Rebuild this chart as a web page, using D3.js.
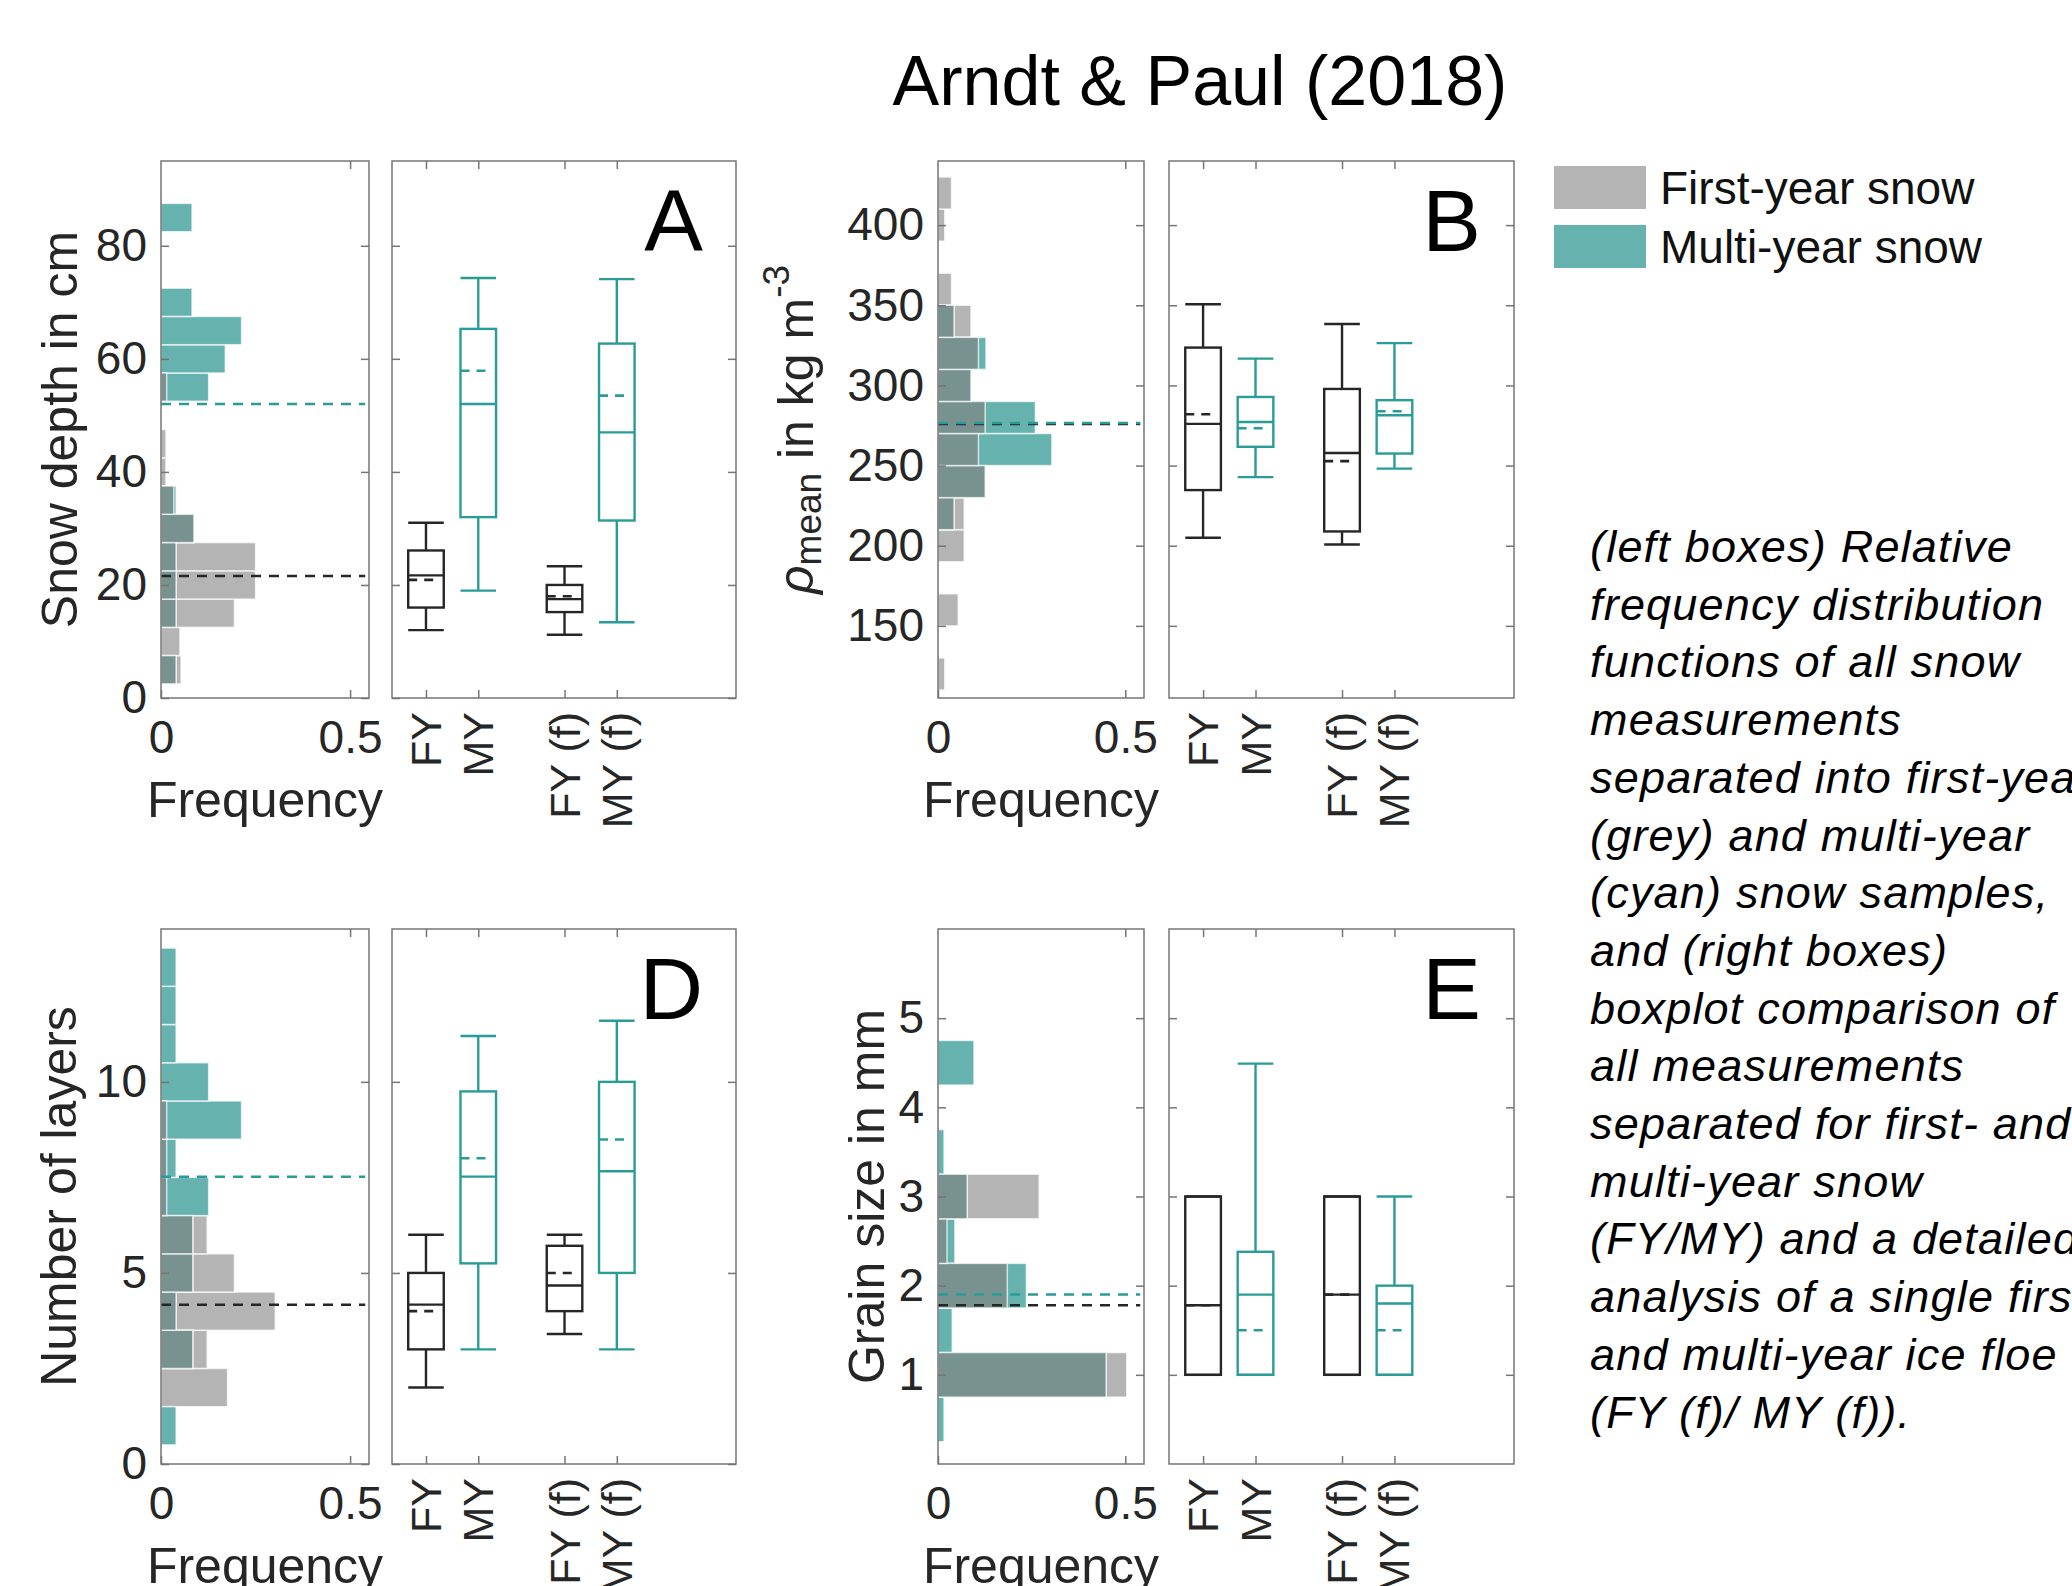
<!DOCTYPE html>
<html>
<head>
<meta charset="utf-8">
<script src="https://cdn.jsdelivr.net/npm/d3@7"></script>
<style>
  body { margin: 0; background: #fff; }
  svg { display: block; }
</style>
</head>
<body>
<div id="screen"></div>
<script>
// values

var boxCategories = ["FY", "MY", "FY (f)", "MY (f)"];
var boxPositions = [1, 2, 3.65, 4.65];
var boxSeries = ["fy", "my", "fy", "my"];
var legendLabels = ["First-year snow", "Multi-year snow"];

// A - snow depth
var binsA = [5, 10, 15, 20, 25, 30, 35, 40, 45, 50, 55, 60, 65, 70, 75, 80, 85];
var fyFreqA = [0.053, 0.05, 0.194, 0.25, 0.25, 0.087, 0.034, 0.013, 0.013, 0, 0.015, 0, 0, 0, 0, 0, 0];
var myFreqA = [0.04, 0, 0.04, 0.04, 0.04, 0.087, 0.04, 0, 0, 0, 0.126, 0.17, 0.213, 0.082, 0, 0, 0.082];
// [low whisker, q1, median, q3, high whisker, mean]
var boxesA = [[12.0, 16.0, 21.7, 26.1, 31.0, 20.9],
              [19.0, 32.0, 52.0, 65.3, 74.3, 57.9],
              [11.2, 15.2, 17.5, 20.0, 23.3, 18.0],
              [13.4, 31.4, 47.0, 62.7, 74.1, 53.5]];
var medianA = [21.6, 52.0];
var yTicksA = [0, 20, 40, 60, 80];

// B - density
var binsB = [120, 140, 160, 180, 200, 220, 240, 260, 280, 300, 320, 340, 360, 380, 400, 420];
var fyFreqB = [0.018, 0, 0.054, 0, 0.07, 0.07, 0.126, 0.108, 0.126, 0.088, 0.108, 0.088, 0.036, 0, 0.018, 0.036];
var myFreqB = [0, 0, 0, 0, 0, 0.043, 0.126, 0.304, 0.26, 0.088, 0.128, 0.043, 0, 0, 0, 0];
var boxesB = [[205, 234.7, 276, 323.6, 350.6, 282],
              [242.8, 261.7, 277.2, 292.8, 316.7, 273.3],
              [200.8, 208.9, 257.8, 297.8, 338.3, 252.8],
              [248.1, 257.5, 281.4, 290.8, 326.4, 283.9]];
var medianB = [276, 276.5];
var yTicksB = [150, 200, 250, 300, 350, 400];

// D - number of layers
var binsD = [1, 2, 3, 4, 5, 6, 7, 8, 9, 10, 11, 12, 13];
var fyFreqD = [0, 0.176, 0.122, 0.302, 0.194, 0.122, 0.015, 0.015, 0.015, 0, 0, 0, 0];
var myFreqD = [0.04, 0, 0.084, 0.04, 0.084, 0.084, 0.126, 0.04, 0.213, 0.126, 0.04, 0.04, 0.04];
var boxesD = [[2, 3, 4.17, 5, 6, 4.0],
              [3, 5.25, 7.52, 9.75, 11.2, 8.0],
              [3.4, 4.0, 4.67, 5.71, 6.0, 5.0],
              [3, 5, 7.66, 10, 11.6, 8.49]];
var medianD = [4.17, 7.52];
var yTicksD = [0, 5, 10];

// E - grain size
var binsE = [0.5, 1, 1.5, 2, 2.5, 3, 3.5, 4, 4.5];
var fyFreqE = [0, 0.504, 0, 0.185, 0.024, 0.27, 0, 0, 0];
var myFreqE = [0.016, 0.449, 0.038, 0.236, 0.045, 0.078, 0.016, 0, 0.096];
var boxesE = [[1, 1, 1.78, 3, 3, 1.78],
              [1, 1, 1.9, 2.38, 4.49, 1.5],
              [1, 1, 1.9, 3, 3, 1.9],
              [1, 1, 1.8, 2, 3, 1.5]];
var medianE = [1.78, 1.9];
var yTicksE = [1, 2, 3, 4, 5];

var captionLines = [
    "(left boxes) Relative",
    "frequency distribution",
    "functions of all snow",
    "measurements",
    "separated into first-year",
    "(grey) and multi-year",
    "(cyan) snow samples,",
    "and (right boxes)",
    "boxplot comparison of",
    "all measurements",
    "separated for first- and",
    "multi-year snow",
    "(FY/MY) and a detailed",
    "analysis of a single first-",
    "and multi-year ice floe",
    "(FY (f)/ MY (f))."
];

// ---- look ----
var W = 2072, H = 1586;
var font = "'Liberation Sans', Arial, Helvetica, sans-serif";
var colors = {
    fy: "#b4b4b4", my: "#65b2af", both: "#77928f",
    fyLine: "#262626", myLine: "#2a9c97",
    frame: "#757575", text: "#262626"
};
var layout = {
    rows: [[161, 698], [929, 1464]],
    cols: [{hist: [161, 369], box: [392, 736]}, {hist: [938, 1144], box: [1169, 1514]}]
};

var panels = [
    {letter: "A", row: 0, col: 0, bins: binsA, binWidth: 5, fy: fyFreqA, my: myFreqA, boxes: boxesA,
     medians: medianA, yTicks: yTicksA, yDomain: [0, 95], label: "Snow depth in cm", labelX: 60},
    {letter: "B", row: 0, col: 1, bins: binsB, binWidth: 20, fy: fyFreqB, my: myFreqB, boxes: boxesB,
     medians: medianB, yTicks: yTicksB, yDomain: [105, 440], label: null, labelX: 796},
    {letter: "D", row: 1, col: 0, bins: binsD, binWidth: 1, fy: fyFreqD, my: myFreqD, boxes: boxesD,
     medians: medianD, yTicks: yTicksD, yDomain: [0, 14], label: "Number of layers", labelX: 59},
    {letter: "E", row: 1, col: 1, bins: binsE, binWidth: 0.5, fy: fyFreqE, my: myFreqE, boxes: boxesE,
     medians: medianE, yTicks: yTicksE, yDomain: [0, 6], label: "Grain size in mm", labelX: 867}
];

var svg = d3.select("#screen").append("svg")
    .attr("width", W).attr("height", H)
    .attr("viewBox", "0 0 " + W + " " + H)
    .style("font-family", font);

svg.append("rect").attr("width", W).attr("height", H).attr("fill", "#fff");

var tickLen = 8;

function styleAxis(g) {
    g.select(".domain").remove();
    g.selectAll(".tick line").attr("stroke", colors.frame).attr("stroke-width", 1.5);
    g.selectAll(".tick text").attr("fill", colors.text).style("font-size", "46px").style("font-family", font);
}

function drawPanel(p) {
    var rowY = layout.rows[p.row];
    var col = layout.cols[p.col];
    var y = d3.scaleLinear().domain(p.yDomain).range([rowY[1], rowY[0]]);
    var xh = d3.scaleLinear().domain([0, 0.55]).range(col.hist);
    var xb = d3.scaleLinear().domain([0.35, 6.93]).range(col.box);
    var g = svg.append("g").attr("class", "panel" + p.letter);

    // histogram bars
    var half = p.binWidth / 2;
    var bars = p.bins.map(function(c, i) {
        return {c: c, fy: p.fy[i], my: p.my[i], both: Math.min(p.fy[i], p.my[i])};
    });
    ["fy", "my", "both"].forEach(function(key) {
        g.append("g").selectAll("rect")
            .data(bars.filter(function(d) { return d[key] > 0; }))
            .join("rect")
            .attr("x", xh(0))
            .attr("y", function(d) { return y(d.c + half); })
            .attr("width", function(d) { return xh(d[key]) - xh(0); })
            .attr("height", function(d) { return y(d.c - half) - y(d.c + half); })
            .attr("fill", colors[key])
            .attr("stroke", "#fff").attr("stroke-opacity", 0.7).attr("stroke-width", 1.5);
    });

    // dashed median lines across the histogram
    [["fy", p.medians[0]], ["my", p.medians[1]]].forEach(function(m) {
        g.append("line")
            .attr("x1", xh(0)).attr("x2", xh(0.54))
            .attr("y1", y(m[1])).attr("y2", y(m[1]))
            .attr("stroke", colors[m[0] + "Line"]).attr("stroke-width", 2.5)
            .attr("stroke-dasharray", "10,8");
    });

    // hist axes
    g.append("g").attr("transform", "translate(" + col.hist[0] + ",0)")
        .call(d3.axisLeft(y).tickValues(p.yTicks).tickSize(-tickLen).tickPadding(14)
            .tickFormat(d3.format("~g")))
        .call(styleAxis);
    g.append("g").attr("transform", "translate(" + col.hist[1] + ",0)")
        .call(d3.axisRight(y).tickValues(p.yTicks).tickSize(-tickLen).tickFormat("")).call(styleAxis);
    g.append("g").attr("transform", "translate(0," + rowY[1] + ")")
        .call(d3.axisBottom(xh).tickValues([0, 0.5]).tickSize(-tickLen).tickPadding(22)
            .tickFormat(d3.format("~g")))
        .call(styleAxis);
    g.append("g").attr("transform", "translate(0," + rowY[0] + ")")
        .call(d3.axisTop(xh).tickValues([0.5]).tickSize(-tickLen).tickFormat("")).call(styleAxis);

    g.append("text")
        .attr("x", (col.hist[0] + col.hist[1]) / 2).attr("y", rowY[1] + 119)
        .attr("text-anchor", "middle").attr("fill", colors.text)
        .style("font-size", "50px").text("Frequency");

    // box panel axes
    g.append("g").attr("transform", "translate(" + col.box[0] + ",0)")
        .call(d3.axisLeft(y).tickValues(p.yTicks).tickSize(-tickLen).tickFormat("")).call(styleAxis);
    g.append("g").attr("transform", "translate(" + col.box[1] + ",0)")
        .call(d3.axisRight(y).tickValues(p.yTicks).tickSize(-tickLen).tickFormat("")).call(styleAxis);
    g.append("g").attr("transform", "translate(0," + rowY[1] + ")")
        .call(d3.axisBottom(xb).tickValues(boxPositions).tickSize(-tickLen).tickFormat("")).call(styleAxis);
    g.append("g").attr("transform", "translate(0," + rowY[0] + ")")
        .call(d3.axisTop(xb).tickValues(boxPositions).tickSize(-tickLen).tickFormat("")).call(styleAxis);

    g.selectAll(".cat").data(boxCategories).join("text")
        .attr("transform", function(d, i) {
            return "translate(" + xb(boxPositions[i]) + "," + (rowY[1] + 14) + ") rotate(-90)";
        })
        .attr("text-anchor", "end").attr("dominant-baseline", "central")
        .attr("fill", colors.text).style("font-size", "43px")
        .text(function(d) { return d; });

    // boxes
    p.boxes.forEach(function(b, i) {
        var cx = xb(boxPositions[i]);
        var hw = (xb(1.34) - xb(1));
        var stroke = colors[boxSeries[i] + "Line"];
        var bg = g.append("g").attr("stroke", stroke).attr("stroke-width", 2.4).attr("fill", "none");
        bg.append("line").attr("x1", cx).attr("x2", cx).attr("y1", y(b[0])).attr("y2", y(b[1]));
        bg.append("line").attr("x1", cx).attr("x2", cx).attr("y1", y(b[3])).attr("y2", y(b[4]));
        [b[0], b[4]].forEach(function(v) {
            bg.append("line").attr("x1", cx - hw).attr("x2", cx + hw).attr("y1", y(v)).attr("y2", y(v));
        });
        bg.append("rect").attr("x", cx - hw).attr("width", 2 * hw)
            .attr("y", y(b[3])).attr("height", y(b[1]) - y(b[3]));
        bg.append("line").attr("x1", cx - hw).attr("x2", cx + hw).attr("y1", y(b[2])).attr("y2", y(b[2]));
        bg.append("line").attr("x1", cx - hw).attr("x2", cx + hw * 0.55).attr("y1", y(b[5])).attr("y2", y(b[5]))
            .attr("stroke-dasharray", "9,7").attr("stroke-width", 2.6);
    });

    // frames
    [col.hist, col.box].forEach(function(xr) {
        g.append("rect").attr("x", xr[0]).attr("y", rowY[0])
            .attr("width", xr[1] - xr[0]).attr("height", rowY[1] - rowY[0])
            .attr("fill", "none").attr("stroke", colors.frame).attr("stroke-width", 1.5);
    });

    // panel letter
    g.append("text").attr("x", col.box[1] - 33).attr("y", rowY[0] + 90)
        .attr("text-anchor", "end").attr("fill", "#000")
        .style("font-size", "88px").text(p.letter);

    // y label
    var cy = (rowY[0] + rowY[1]) / 2;
    var lab = g.append("text")
        .attr("transform", "translate(" + p.labelX + "," + cy + ") rotate(-90)")
        .attr("text-anchor", "middle").attr("dominant-baseline", "central")
        .attr("fill", colors.text).style("font-size", "50px");
    if (p.label) {
        lab.text(p.label);
    } else {
        lab.append("tspan").style("font-style", "italic").text("\u03c1");
        lab.append("tspan").attr("dy", 12).style("font-size", "37px").text("mean");
        lab.append("tspan").attr("dy", -12).text(" in kg m");
        lab.append("tspan").attr("dy", -20).style("font-size", "37px").text("-3");
    }
}

panels.forEach(drawPanel);

// title
svg.append("text").attr("x", 1200).attr("y", 105)
    .attr("text-anchor", "middle").attr("fill", "#000")
    .style("font-size", "70px").text("Arndt & Paul (2018)");

// legend
var legend = svg.append("g").attr("transform", "translate(1554,166)");
legendLabels.forEach(function(t, i) {
    legend.append("rect").attr("x", 0).attr("y", i * 59)
        .attr("width", 92).attr("height", 43)
        .attr("fill", i === 0 ? colors.fy : colors.my);
    legend.append("text").attr("x", 106).attr("y", i * 59 + 22)
        .attr("dominant-baseline", "central").attr("fill", "#111")
        .style("font-size", "46px").text(t);
});

// caption
svg.append("g").selectAll("text").data(captionLines).join("text")
    .attr("x", 1590).attr("y", function(d, i) { return 562 + i * 57.7; })
    .attr("fill", "#000").style("font-style", "italic").style("font-size", "45px")
    .style("letter-spacing", "1.2px")
    .text(function(d) { return d; });
</script>
</body>
</html>
